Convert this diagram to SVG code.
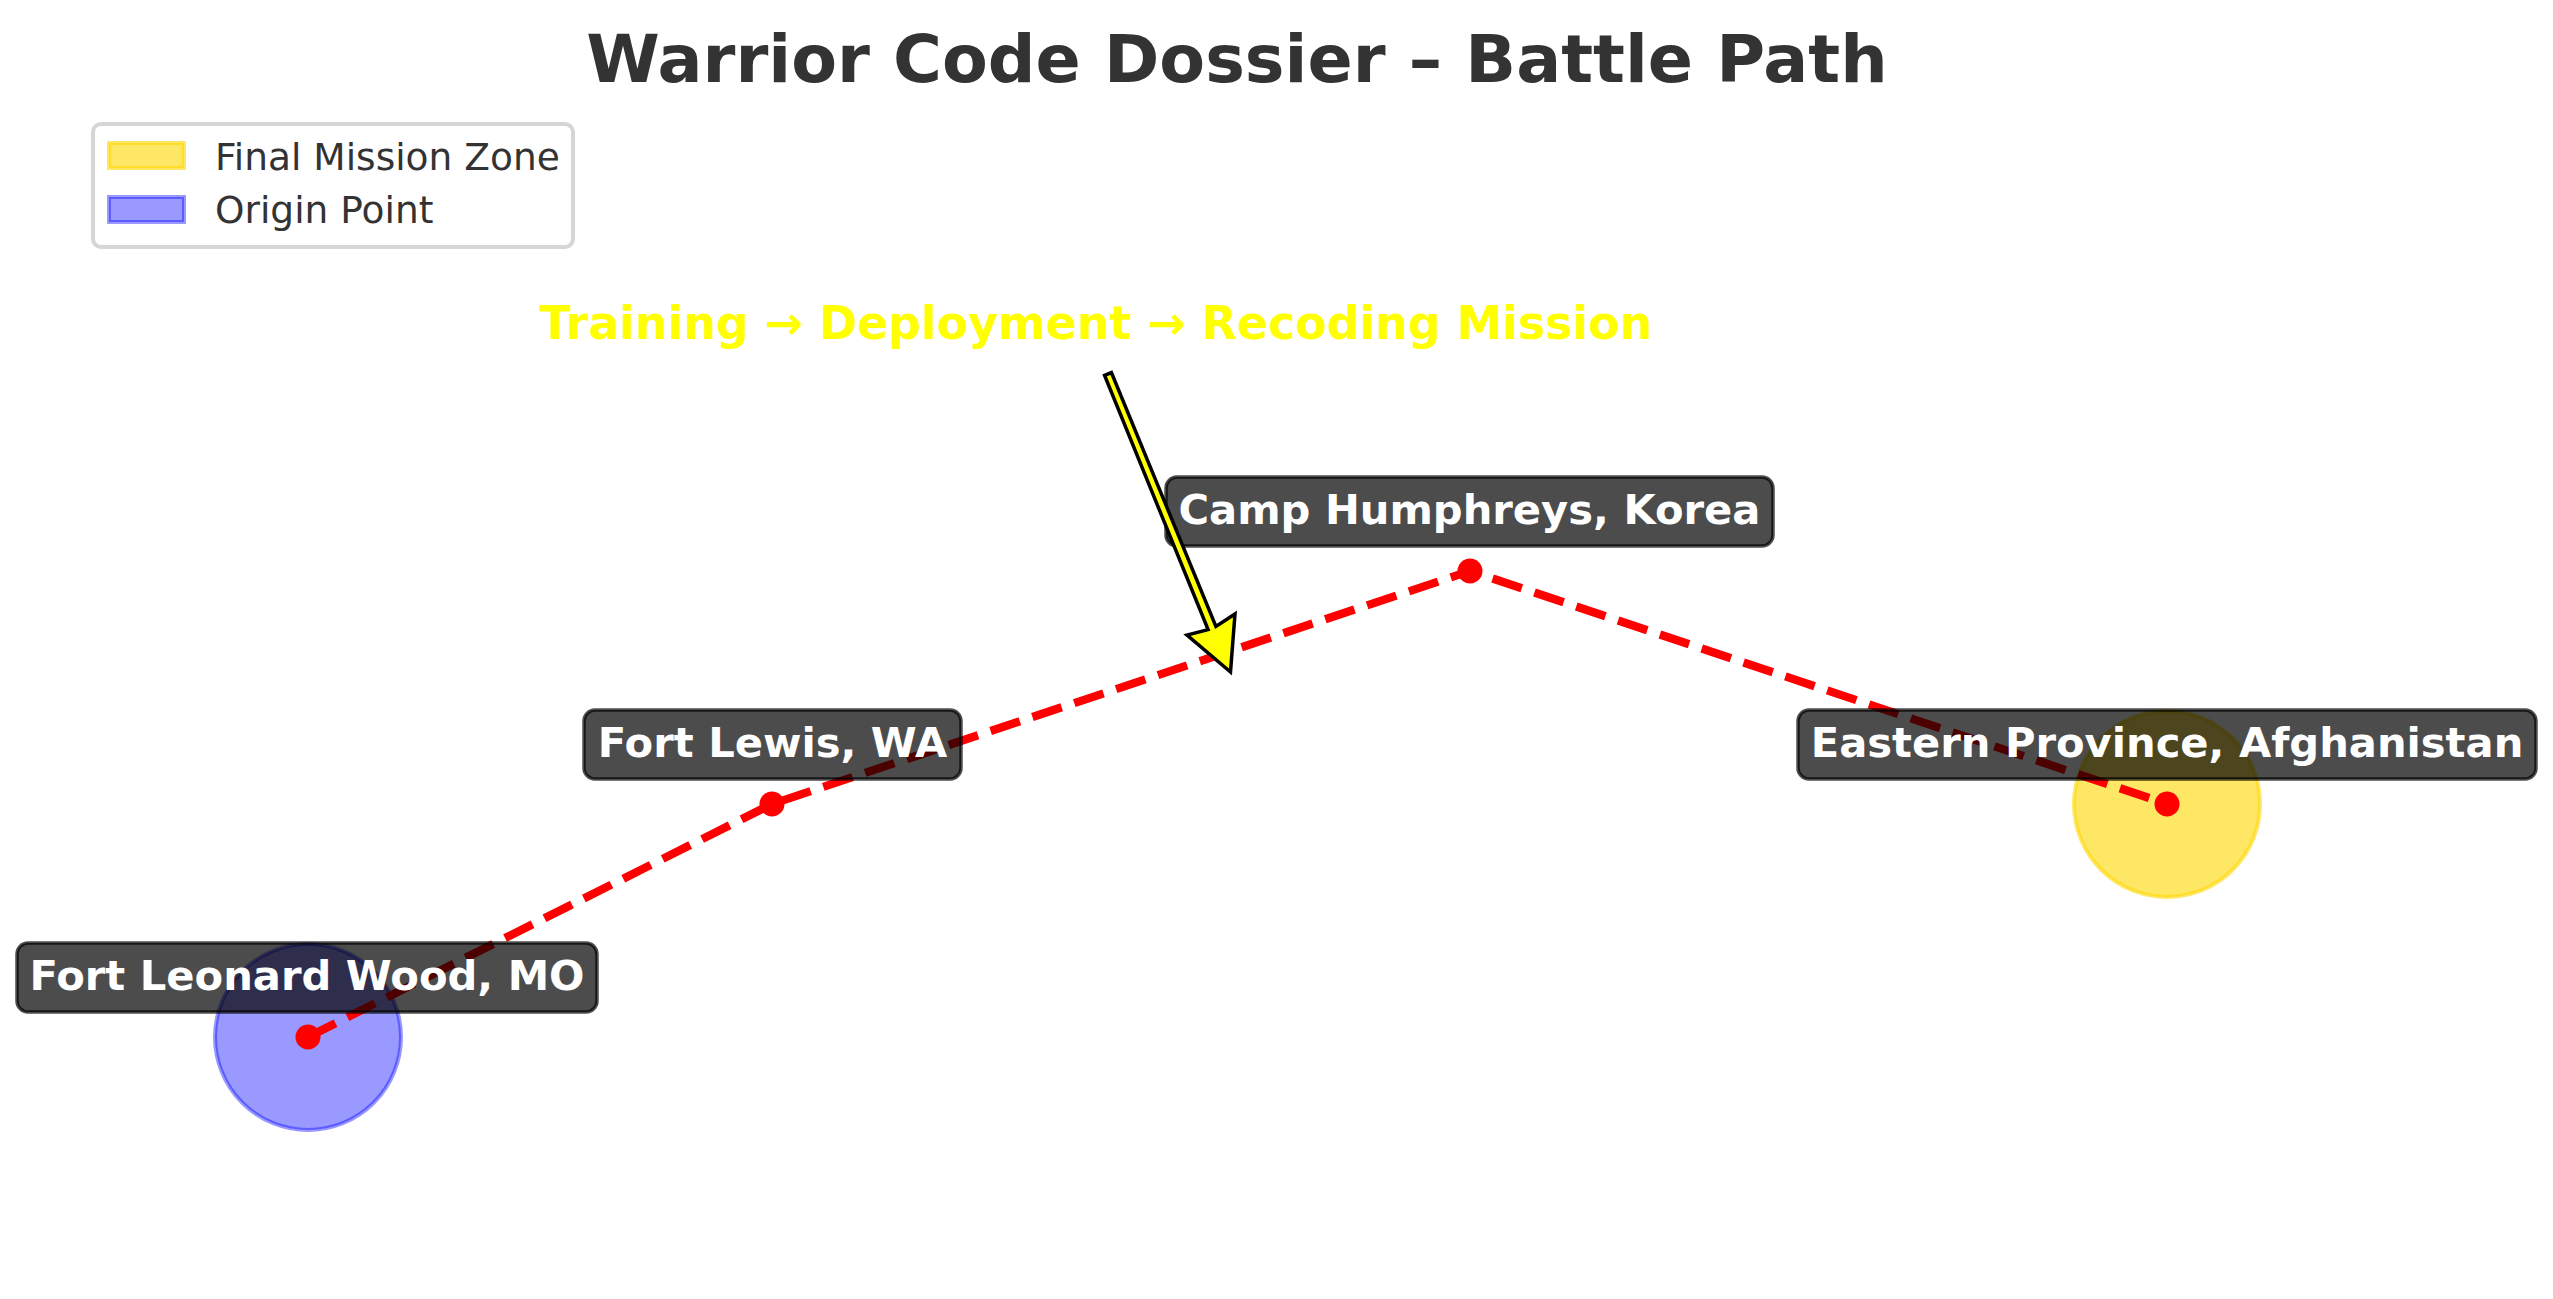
<svg xmlns="http://www.w3.org/2000/svg" width="2553" height="1299" viewBox="0 0 2553 1299">
  <style>
    text { font-family: "DejaVu Sans", "Liberation Sans", sans-serif; }
    .title { font-size: 66.7px; font-weight: bold; fill: #333333; text-anchor: middle; }
    .legend-text { font-size: 37.5px; fill: #333333; }
    .label-box { fill: #000000; fill-opacity: 0.7; stroke: #000000; stroke-opacity: 0.7; stroke-width: 3.5; }
    .label-text { font-size: 41.67px; font-weight: bold; fill: #ffffff; text-anchor: middle; }
    .note { font-size: 45.83px; font-weight: bold; fill: #ffff00; text-anchor: middle; }
    .zone-origin { fill: #0000ff; fill-opacity: 0.4; stroke: #0000ff; stroke-opacity: 0.4; stroke-width: 4; }
    .zone-final { fill: #ffd700; fill-opacity: 0.6; stroke: #ffd700; stroke-opacity: 0.6; stroke-width: 4; }
    .route { fill: none; stroke: #ff0000; stroke-width: 8.33; stroke-dasharray: 30.8 13.3; stroke-linejoin: round; stroke-linecap: butt; }
    .stop { fill: #ff0000; }
  </style>

  <rect width="2553" height="1299" fill="#ffffff"/>

  <!-- zones -->
  <g id="zones">
    <circle class="zone-origin" cx="308" cy="1037" r="93"/>
    <circle class="zone-final" cx="2167" cy="804" r="93"/>
  </g>

  <!-- route connectors -->
  <g id="connectors">
    <polyline class="route" points="308,1037 772,804 1470,571 2167,804"/>
    <circle class="stop" cx="308" cy="1037" r="12.5"/>
    <circle class="stop" cx="772" cy="804" r="12.5"/>
    <circle class="stop" cx="1470" cy="571" r="12.5"/>
    <circle class="stop" cx="2167" cy="804" r="12.5"/>
  </g>

  <!-- location labels -->
  <g id="node-fort-leonard-wood">
    <rect class="label-box" x="17" y="943" width="580" height="69" rx="11"/>
    <text class="label-text" x="307" y="990">Fort Leonard Wood, MO</text>
  </g>
  <g id="node-fort-lewis">
    <rect class="label-box" x="584" y="710" width="377" height="69" rx="11"/>
    <text class="label-text" x="772.5" y="757">Fort Lewis, WA</text>
  </g>
  <g id="node-camp-humphreys">
    <rect class="label-box" x="1166" y="477" width="607" height="69" rx="11"/>
    <text class="label-text" x="1469.5" y="524">Camp Humphreys, Korea</text>
  </g>
  <g id="node-eastern-province">
    <rect class="label-box" x="1798" y="710" width="738" height="69" rx="11"/>
    <text class="label-text" x="2167" y="757">Eastern Province, Afghanistan</text>
  </g>

  <!-- annotation -->
  <g id="node-annotation">
    <text class="note" x="1096" y="339">Training → Deployment → Recoding Mission</text>
    <polygon points="1104.6,375.4 1111.4,372.6 1215.9,626.4 1235,614 1230.5,672 1187,635 1208.1,629.6"
             fill="#ffff00" stroke="#000000" stroke-width="3.5" stroke-linejoin="miter"/>
  </g>

  <!-- title -->
  <g id="node-title">
    <text class="title" x="1237" y="82">Warrior Code Dossier – Battle Path</text>
  </g>

  <!-- legend -->
  <g id="node-legend">
    <rect x="93" y="124" width="480" height="123" rx="8" fill="#ffffff" fill-opacity="0.8" stroke="#d6d6d6" stroke-width="4"/>
    <rect class="zone-final" x="109" y="143" width="75" height="25"/>
    <text class="legend-text" x="215" y="170">Final Mission Zone</text>
    <rect class="zone-origin" x="109" y="197" width="75" height="25"/>
    <text class="legend-text" x="215" y="223">Origin Point</text>
  </g>
</svg>
